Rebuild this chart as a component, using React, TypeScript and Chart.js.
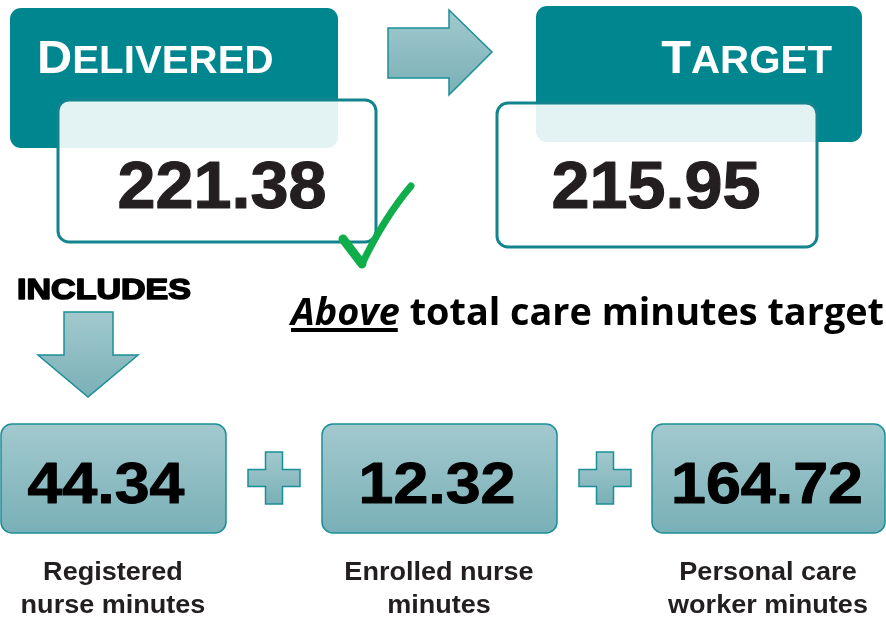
import React, { useEffect, useRef } from "react";
import { Chart, registerables } from "chart.js";

Chart.register(...registerables);

const headerLabels = ["DELIVERED", "TARGET"];
const headerValues = [221.38, 215.95];
const componentValues = [44.34, 12.32, 164.72];
const componentLabels = [
  ["Registered", "nurse minutes"],
  ["Enrolled nurse", "minutes"],
  ["Personal care", "worker minutes"],
];
const includesLabel = "INCLUDES";
const statusWord = "Above";
const statusRest = " total care minutes target";

const TEAL = "#00868f";
const TEAL_STROKE = "#1b8e97";
const DARK = "#231f20";

function rr(ctx: CanvasRenderingContext2D, x: number, y: number, w: number, h: number, r: number) {
  ctx.beginPath();
  ctx.roundRect(x, y, w, h, r);
}

function scaledText(
  ctx: CanvasRenderingContext2D,
  text: string,
  x: number,
  y: number,
  font: string,
  sx: number,
  align: CanvasTextAlign,
  color: string,
  strokeW = 0
) {
  ctx.save();
  ctx.font = font;
  ctx.fillStyle = color;
  ctx.textAlign = align;
  ctx.textBaseline = "alphabetic";
  ctx.translate(x, y);
  ctx.scale(sx, 1);
  ctx.fillText(text, 0, 0);
  if (strokeW > 0) {
    ctx.lineWidth = strokeW;
    ctx.strokeStyle = color;
    ctx.lineJoin = "round";
    ctx.strokeText(text, 0, 0);
  }
  ctx.restore();
}

function smallCaps(
  ctx: CanvasRenderingContext2D,
  word: string,
  x: number,
  y: number,
  big: number,
  small: number,
  sx: number,
  align: "left" | "right"
) {
  ctx.save();
  const fam = "'Liberation Sans', Arial, sans-serif";
  const first = word[0];
  const rest = word.slice(1);
  ctx.font = `bold ${big}px ${fam}`;
  const w1 = ctx.measureText(first).width;
  ctx.font = `bold ${small}px ${fam}`;
  const w2 = ctx.measureText(rest).width;
  const total = (w1 + w2) * sx;
  const x0 = align === "left" ? x : x - total;
  ctx.fillStyle = "#ffffff";
  ctx.textBaseline = "alphabetic";
  ctx.textAlign = "left";
  ctx.translate(x0, y);
  ctx.scale(sx, 1);
  ctx.font = `bold ${big}px ${fam}`;
  ctx.fillText(first, 0, 0);
  ctx.font = `bold ${small}px ${fam}`;
  ctx.fillText(rest, w1, 0);
  ctx.restore();
}

function boxGradient(ctx: CanvasRenderingContext2D, y0: number, y1: number) {
  const g = ctx.createLinearGradient(0, y0, 0, y1);
  g.addColorStop(0, "#a2c9ce");
  g.addColorStop(1, "#79b0b7");
  return g;
}

const infographicPlugin = {
  id: "infographic",
  afterDraw(chart: any) {
    const ctx: CanvasRenderingContext2D = chart.ctx;
    const fam = "'Liberation Sans', Arial, sans-serif";
    ctx.save();

    // Header cards
    const cards = [
      { hx: 10, hy: 8, hw: 328, hh: 140, bx: 58, by: 100, bw: 318, bh: 142, tx: 37, align: "left" as const, cx: 222, sx: 1.06 },
      { hx: 536, hy: 6, hw: 326, hh: 136, bx: 497, by: 103, bw: 320, bh: 144, tx: 832, align: "right" as const, cx: 656, sx: 1.06 },
    ];
    cards.forEach((c, i) => {
      rr(ctx, c.hx, c.hy, c.hw, c.hh, 11);
      ctx.fillStyle = TEAL;
      ctx.fill();
      rr(ctx, c.bx, c.by, c.bw, c.bh, 11);
      ctx.fillStyle = "rgba(255,255,255,0.89)";
      ctx.fill();
      ctx.lineWidth = 3;
      ctx.strokeStyle = "#13848e";
      ctx.stroke();
      smallCaps(ctx, headerLabels[i], c.tx, 73, 46, 38, c.sx, c.align);
      scaledText(ctx, headerValues[i].toFixed(2), c.cx, 208, `bold 67px ${fam}`, 1.02, "center", DARK, 1.2);
    });

    // Right arrow
    ctx.beginPath();
    ctx.moveTo(388, 28);
    ctx.lineTo(449, 28);
    ctx.lineTo(449, 10);
    ctx.lineTo(492, 52);
    ctx.lineTo(449, 95);
    ctx.lineTo(449, 78);
    ctx.lineTo(388, 78);
    ctx.closePath();
    ctx.fillStyle = boxGradient(ctx, 10, 95);
    ctx.fill();
    ctx.lineWidth = 1.5;
    ctx.strokeStyle = TEAL_STROKE;
    ctx.stroke();

    // Green check mark
    ctx.save();
    ctx.strokeStyle = "#10ad4b";
    ctx.lineCap = "round";
    ctx.lineJoin = "round";
    ctx.lineWidth = 9;
    ctx.beginPath();
    ctx.moveTo(343, 239);
    ctx.lineTo(362, 264);
    ctx.stroke();
    ctx.lineWidth = 7;
    ctx.beginPath();
    ctx.moveTo(362, 264);
    ctx.quadraticCurveTo(384, 218, 411, 186);
    ctx.stroke();
    ctx.restore();

    // INCLUDES
    ctx.font = `bold 29px ${fam}`;
    const wInc = ctx.measureText(includesLabel).width;
    scaledText(ctx, includesLabel, 17, 299, `bold 29px ${fam}`, 174 / wInc, "left", "#000", 1.6);

    // Down arrow
    ctx.beginPath();
    ctx.moveTo(64, 312);
    ctx.lineTo(113, 312);
    ctx.lineTo(113, 355);
    ctx.lineTo(138, 355);
    ctx.lineTo(88, 397);
    ctx.lineTo(38, 355);
    ctx.lineTo(64, 355);
    ctx.closePath();
    ctx.fillStyle = boxGradient(ctx, 312, 397);
    ctx.fill();
    ctx.lineWidth = 1.5;
    ctx.strokeStyle = TEAL_STROKE;
    ctx.stroke();

    // Status sentence
    const sFam = "'Open Sans', 'Noto Sans', sans-serif";
    ctx.fillStyle = "#000";
    ctx.textBaseline = "alphabetic";
    ctx.textAlign = "left";
    ctx.font = `italic bold 37px ${sFam}`;
    const wA = ctx.measureText(statusWord).width;
    ctx.font = `bold 37px ${sFam}`;
    const wB = ctx.measureText(statusRest).width;
    const sx = 593 / (wA + wB);
    ctx.save();
    ctx.translate(291, 325);
    ctx.scale(sx, 1);
    ctx.font = `italic bold 37px ${sFam}`;
    ctx.fillText(statusWord, 0, 0);
    ctx.fillRect(0, 3, wA - 2, 4);
    ctx.font = `bold 37px ${sFam}`;
    ctx.fillText(statusRest, wA, 0);
    ctx.restore();

    // Component boxes
    const boxes = [
      { x: 0, w: 226, dx: -7 },
      { x: 321, w: 236, dx: -2 },
      { x: 651, w: 234, dx: -1 },
    ];
    boxes.forEach((b, i) => {
      rr(ctx, b.x + 1, 424, b.w - 1, 109, 11);
      ctx.fillStyle = boxGradient(ctx, 424, 533);
      ctx.fill();
      ctx.lineWidth = 1.5;
      ctx.strokeStyle = TEAL_STROKE;
      ctx.stroke();
      const cx = b.x + b.w / 2;
      scaledText(ctx, componentValues[i].toFixed(2), cx + b.dx, 503, `bold 57px ${fam}`, 1.1, "center", "#000", 1);
      componentLabels[i].forEach((line, j) => {
        scaledText(ctx, line, cx, 580 + j * 33, `bold 26px ${fam}`, 1.04, "center", DARK);
      });
    });

    // Plus signs
    [274, 605].forEach((px) => {
      const cy = 478;
      const a = 26;
      const t = 8.5;
      ctx.beginPath();
      ctx.moveTo(px - t, cy - a);
      ctx.lineTo(px + t, cy - a);
      ctx.lineTo(px + t, cy - t);
      ctx.lineTo(px + a, cy - t);
      ctx.lineTo(px + a, cy + t);
      ctx.lineTo(px + t, cy + t);
      ctx.lineTo(px + t, cy + a);
      ctx.lineTo(px - t, cy + a);
      ctx.lineTo(px - t, cy + t);
      ctx.lineTo(px - a, cy + t);
      ctx.lineTo(px - a, cy - t);
      ctx.lineTo(px - t, cy - t);
      ctx.closePath();
      ctx.fillStyle = boxGradient(ctx, cy - a, cy + a);
      ctx.fill();
      ctx.lineWidth = 1.5;
      ctx.strokeStyle = TEAL_STROKE;
      ctx.stroke();
    });

    ctx.restore();
  },
};

export default function App() {
  const ref = useRef<HTMLCanvasElement | null>(null);
  useEffect(() => {
    if (!ref.current) return;
    const chart = new Chart(ref.current, {
      type: "bar",
      data: {
        labels: componentLabels.map((l) => l.join(" ")),
        datasets: [
          {
            data: componentValues,
            backgroundColor: "rgba(0,0,0,0)",
            borderWidth: 0,
          },
        ],
      },
      options: {
        animation: false,
        responsive: false,
        maintainAspectRatio: false,
        events: [],
        layout: { padding: 0 },
        scales: { x: { display: false }, y: { display: false } },
        plugins: { legend: { display: false }, tooltip: { enabled: false } },
      },
      plugins: [infographicPlugin],
    });
    return () => chart.destroy();
  }, []);
  return (
    <div style={{ position: "fixed", left: 0, top: 0, width: 886, height: 619, background: "#fff" }}>
      <canvas ref={ref} width={886} height={619} style={{ display: "block", width: 886, height: 619 }} />
    </div>
  );
}
